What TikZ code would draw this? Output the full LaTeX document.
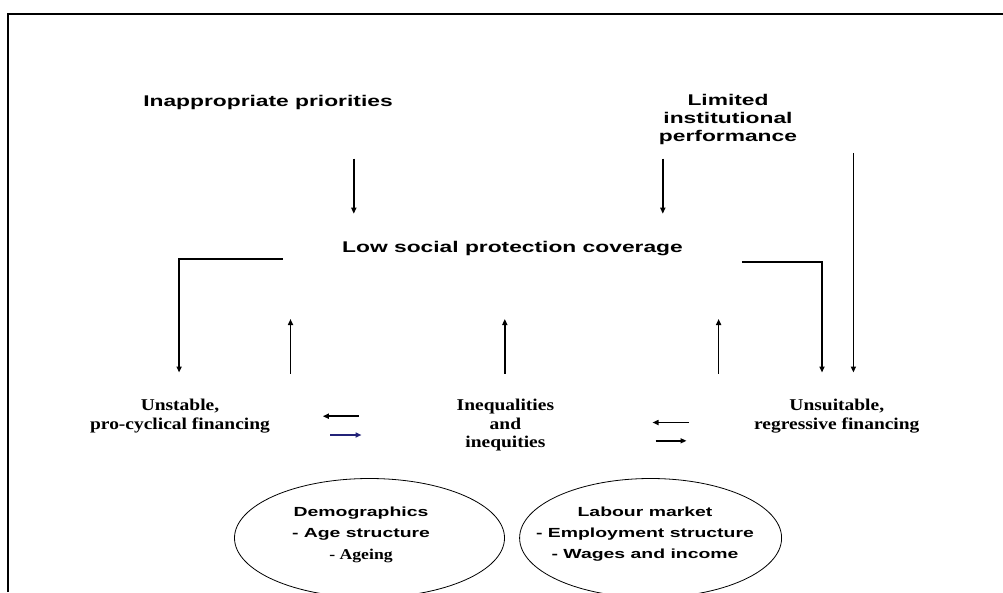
\documentclass[tikz,border=0pt]{standalone}
\usepackage{fontspec}
\usetikzlibrary{arrows.meta,shapes.geometric}
\newfontfamily\wsans[FakeStretch=1.47]{Liberation Sans}
\newfontfamily\wserif[FakeStretch=1.18]{Liberation Serif}
\definecolor{navyarrow}{RGB}{35,35,120}
\begin{document}
\begin{tikzpicture}[x=1pt,y=-1pt,
  sansmain/.style={font=\wsans\bfseries\fontsize{15.5}{18}\selectfont, align=center, inner sep=0pt},
  serifmain/.style={font=\wserif\bfseries\fontsize{16.5}{18.5}\selectfont, align=center, inner sep=0pt},
  elltext/.style={font=\wsans\bfseries\fontsize{13.2}{21}\selectfont, align=center, inner sep=0pt},
  ellserif/.style={font=\wserif\bfseries\fontsize{15}{21}\selectfont, inner sep=0pt},
  ell/.style={draw, ellipse, line width=0.8pt, inner sep=0pt},
  arr/.style={line width=1.5pt, -{Triangle[length=6pt,width=5pt]}},
  elbow/.style={line width=1.7pt, -{Triangle[length=6pt,width=5pt]}},
  frameline/.style={line width=2pt}
]
\useasboundingbox (0,0) rectangle (1003,592);

% frame
\coordinate (fbl) at (7.5,592);
\coordinate (ftl) at (7.5,14);
\coordinate (ftr) at (1003,14);
\draw[frameline] (fbl) -- (ftl) -- (ftr);

% texts
\node[sansmain] (ip) at (268,102) {Inappropriate priorities};
\node[sansmain] (lip) at (728,119) {Limited\\institutional\\performance};
\node[sansmain] (lsp) at (512.5,249) {Low social protection coverage};
\node[serifmain] (upf) at (180,416) {Unstable,\\pro-cyclical financing};
\node[serifmain] (ii) at (505.4,425.5) {Inequalities\\and\\inequities};
\node[serifmain] (urf) at (836.8,416) {Unsuitable,\\regressive financing};

% ellipses
\node[ell, minimum width=270pt, minimum height=119pt] (demo) at (369.5,538) {};
\node[ell, minimum width=262pt, minimum height=119pt] (lab) at (650.6,538) {};
\node[elltext] (demot) at (361,523.5) {Demographics\\- Age structure};
\node[ellserif] (aget) at (361,556) {- Ageing};
\node[elltext] (labt) at (645,534) {Labour market\\- Employment structure\\- Wages and income};

% arrow coordinates
\coordinate (a1s) at (353.8,158.6); \coordinate (a1e) at (353.8,213.7);
\coordinate (a2s) at (662.8,158.6); \coordinate (a2e) at (662.8,213.7);
\coordinate (a3s) at (853.4,152.9); \coordinate (a3e) at (853.4,372.5);
\coordinate (lbs) at (282.8,259); \coordinate (lbc) at (179.1,259); \coordinate (lbe) at (179.1,372.5);
\coordinate (rbs) at (741.8,262); \coordinate (rbc) at (822,262); \coordinate (rbe) at (822,372.5);
\coordinate (u1s) at (290.5,373.5); \coordinate (u1e) at (290.5,319);
\coordinate (u2s) at (504.8,373.5); \coordinate (u2e) at (504.8,319);
\coordinate (u3s) at (718.6,373.5); \coordinate (u3e) at (718.6,319);
\coordinate (h1s) at (358.5,416.2); \coordinate (h1e) at (322.8,416.2);
\coordinate (h2s) at (330,435); \coordinate (h2e) at (361.5,435);
\coordinate (h3s) at (689,422.5); \coordinate (h3e) at (652.5,422.5);
\coordinate (h4s) at (655.5,440.8); \coordinate (h4e) at (686.5,440.8);

\draw[arr] (a1s) -- (a1e);
\draw[arr] (a2s) -- (a2e);
\draw[elbow] (a3s) -- (a3e);
\draw[elbow] (lbs) -- (lbc) -- (lbe);
\draw[elbow] (rbs) -- (rbc) -- (rbe);
\draw[arr] (u1s) -- (u1e);
\draw[arr] (u2s) -- (u2e);
\draw[arr] (u3s) -- (u3e);
\draw[arr] (h1s) -- (h1e);
\draw[arr, navyarrow] (h2s) -- (h2e);
\draw[arr] (h3s) -- (h3e);
\draw[arr] (h4s) -- (h4e);
\end{tikzpicture}
\end{document}
